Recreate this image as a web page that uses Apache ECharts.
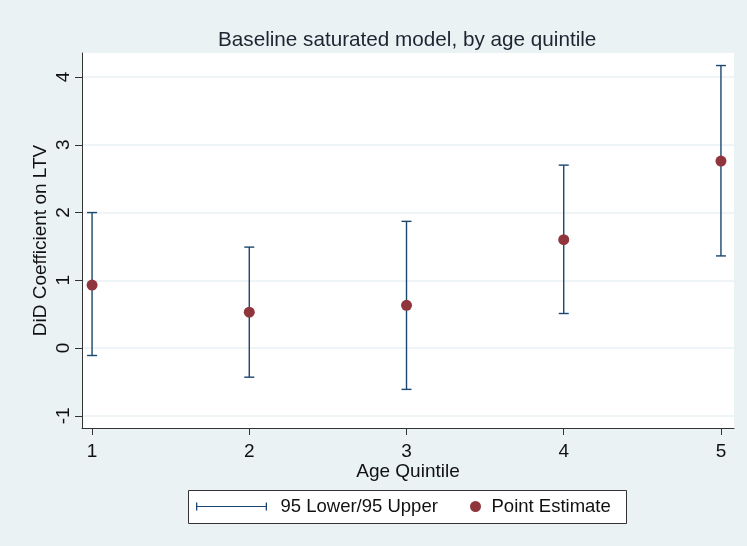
<!DOCTYPE html>
<html>
<head>
<meta charset="utf-8">
<script src="https://cdn.jsdelivr.net/npm/echarts@6/dist/echarts.min.js"></script>
<style>
  html, body { margin: 0; padding: 0; background: #eaf2f3; }
  #chart { width: 747px; height: 546px; }
</style>
</head>
<body>
<div id="chart"></div>
<script>
// age quintiles and DiD estimates with 95% bounds
const quintiles = [1, 2, 3, 4, 5]
const pointEst = [0.93, 0.53, 0.63, 1.60, 2.76]
const lower95 = [-0.11, -0.43, -0.61, 0.51, 1.36]
const upper95 = [2.00, 1.49, 1.87, 2.70, 4.17]
const yTicks = [-1, 0, 1, 2, 3, 4]

const navy = '#1a476f'
const maroon = '#90353b'
const font = '"Liberation Sans", Arial, sans-serif'

const chart = echarts.init(document.getElementById('chart'), null, { width: 747, height: 546 })

const barData = quintiles.map((q, i) => [q, lower95[i], upper95[i]])
const dotData = quintiles.map((q, i) => [q, pointEst[i]])

const option = {
  backgroundColor: '#eaf2f3',
  animation: false,
  textStyle: { fontFamily: font },
  title: {
    text: 'Baseline saturated model, by age quintile',
    left: 218,
    top: 30,
    padding: 0,
    textStyle: { fontFamily: font, fontSize: 20.7, fontWeight: 'normal', color: '#1c2530' }
  },
  grid: { left: 82, right: 13, top: 53, bottom: 118, backgroundColor: '#fff', show: true, borderWidth: 0 },
  xAxis: {
    type: 'value',
    min: 0.936,
    max: 5.083,
    name: 'Age Quintile',
    nameLocation: 'middle',
    nameGap: 34,
    nameMoveOverlap: false,
    nameTextStyle: { fontFamily: font, fontSize: 19, color: '#111' },
    axisLine: { onZero: false, lineStyle: { color: '#333', width: 1 } },
    axisTick: { length: 7, customValues: quintiles, lineStyle: { color: '#333' } },
    axisLabel: { customValues: quintiles, fontSize: 19, color: '#111', margin: 14, fontFamily: font },
    splitLine: { show: false }
  },
  yAxis: {
    type: 'value',
    min: -1.18,
    max: 4.355,
    name: 'DiD Coefficient on LTV',
    nameLocation: 'middle',
    nameGap: 32,
    nameMoveOverlap: false,
    nameTextStyle: { fontFamily: font, fontSize: 19, color: '#111' },
    axisLine: { show: true, onZero: false, lineStyle: { color: '#333', width: 1 } },
    axisTick: { show: true, length: 7, customValues: yTicks, lineStyle: { color: '#333' } },
    axisLabel: { customValues: yTicks, rotate: 90, fontSize: 19, color: '#111', margin: 9, fontFamily: font },
    splitLine: { show: true, lineStyle: { color: '#eaf2f3', width: 1.5 } }
  },
  graphic: [{
    type: 'rect',
    z: 1,
    shape: { x: 188.5, y: 490.5, width: 438, height: 33 },
    style: { fill: '#fff', stroke: '#333', lineWidth: 1 }
  }],
  legend: [{
    z: 10,
    left: 196,
    top: 496.5,
    padding: 0,
    itemWidth: 82,
    itemHeight: 8,
    textStyle: { fontFamily: font, fontSize: 18.5, color: '#111', lineHeight: 20 },
    itemStyle: { borderWidth: 0 },
    data: [{
      name: '95 Lower/95 Upper',
      icon: 'path://M0,0h1.3v8h-1.3z M0,3.4h71v1.2h-71z M69.7,0h1.3v8h-1.3z M77,4z'
    }]
  }, {
    z: 10,
    left: 470,
    top: 496.5,
    padding: 0,
    itemWidth: 16.5,
    itemHeight: 11,
    textStyle: { fontFamily: font, fontSize: 18.5, color: '#111', lineHeight: 20 },
    itemStyle: { borderWidth: 0, opacity: 1 },
    data: [{
      name: 'Point Estimate',
      icon: 'path://M0,5.5a5.5,5.5 0 1,0 11,0a5.5,5.5 0 1,0 -11,0z M16.5,5.5z'
    }]
  }],
  series: [
    {
      name: '95 Lower/95 Upper',
      type: 'custom',
      itemStyle: { color: navy },
      data: barData,
      z: 3,
      renderItem: function (params, api) {
        const x = api.value(0)
        const lo = api.coord([x, api.value(1)])
        const hi = api.coord([x, api.value(2)])
        const half = 5
        const style = { stroke: navy, lineWidth: 1.4 }
        return {
          type: 'group',
          children: [
            { type: 'line', shape: { x1: lo[0], y1: lo[1], x2: hi[0], y2: hi[1] }, style: style },
            { type: 'line', shape: { x1: lo[0] - half, y1: lo[1], x2: lo[0] + half, y2: lo[1] }, style: style },
            { type: 'line', shape: { x1: hi[0] - half, y1: hi[1], x2: hi[0] + half, y2: hi[1] }, style: style }
          ]
        }
      }
    },
    {
      name: 'Point Estimate',
      type: 'scatter',
      symbol: 'circle',
      symbolSize: 11,
      itemStyle: { color: maroon, opacity: 1 },
      data: dotData,
      z: 4
    }
  ]
}

chart.setOption(option)
</script>
</body>
</html>
